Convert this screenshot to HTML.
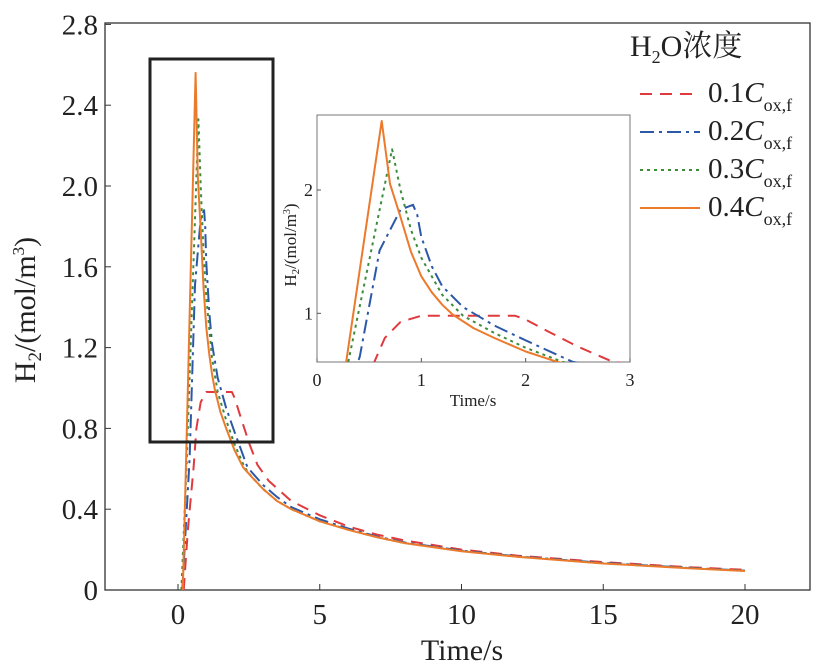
<!DOCTYPE html>
<html><head><meta charset="utf-8"><style>
body{margin:0;background:#fff;width:822px;height:663px;overflow:hidden}
svg text{font-family:"Liberation Serif","Noto Serif CJK SC",serif;fill:#222}
</style></head><body>
<svg id="c" width="822" height="663"></svg>
<script>
const series=["0.1","0.2","0.3","0.4"];
const colors=["#e03a3e","#2c58a8","#3d8c3a","#ec7a2c"];
const dashes=["12,8","14,5,3,5","3,4",""];
const t01=[0.2,0.35,0.55,0.65,0.8,1.0,1.5,1.9,2.0,2.2,2.5,2.8,3.2,4,5,6,7,8,10,12,15,18,20];
const v01=[0,0.3,0.607,0.8,0.93,0.98,0.98,0.98,0.95,0.86,0.73,0.62,0.54,0.44,0.37,0.315,0.275,0.245,0.2,0.17,0.138,0.113,0.1];
const t02=[0.15,0.41,0.6,0.8,0.92,0.96,1.0,1.1,1.2,1.4,1.7,2.0,2.45,3,3.5,4,5,6,7,8,10,12,15,18,20];
const v02=[0,0.65,1.51,1.84,1.88,1.8,1.62,1.38,1.22,1.05,0.9,0.78,0.607,0.52,0.46,0.41,0.35,0.305,0.265,0.235,0.195,0.166,0.134,0.11,0.096];
const t03=[0.12,0.3,0.72,0.8,0.9,1.0,1.2,1.4,1.7,2.0,2.35,2.6,3,3.5,4,5,6,7,8,10,12,15,18,20];
const v03=[0,0.607,2.33,2.0,1.68,1.45,1.15,0.98,0.84,0.72,0.607,0.56,0.5,0.44,0.4,0.34,0.3,0.262,0.232,0.193,0.165,0.132,0.109,0.095];
const t04=[0.17,0.28,0.62,0.7,0.8,0.9,1.0,1.1,1.2,1.3,1.5,1.7,2.0,2.3,2.6,3,3.5,4,5,6,7,8,10,12,15,18,20];
const v04=[0,0.607,2.56,2.05,1.78,1.5,1.3,1.17,1.07,0.99,0.88,0.8,0.69,0.607,0.56,0.5,0.44,0.4,0.34,0.298,0.262,0.232,0.192,0.164,0.131,0.108,0.094];
const T=[t01,t02,t03,t04],V=[v01,v02,v03,v04];
const xTicks=[0,5,10,15,20], yTicks=[0,0.4,0.8,1.2,1.6,2.0,2.4,2.8];
const ixTicks=[0,1,2,3], iyTicks=[1,2];
const NS="http://www.w3.org/2000/svg",svg=document.getElementById('c');
function mk(tag,at,par){const e=document.createElementNS(NS,tag);for(const k in at)e.setAttribute(k,at[k]);(par||svg).appendChild(e);return e;}
const X=t=>178+t*28.35, Y=v=>590-v*202;
const IX=t=>317+t*(313/3), IY=v=>313.3-(v-1)*123.3;
let e=mk('rect',{x:105,y:23,width:705,height:567,fill:'none',stroke:'#333','stroke-width':1.3});

xTicks.forEach(t=>{mk('line',{x1:X(t),x2:X(t),y1:590,y2:584,stroke:'#333'});
 e=mk('text',{x:X(t),y:624,'font-size':29,'text-anchor':'middle'});e.textContent=t;
 });
yTicks.forEach(v=>{mk('line',{x1:105,x2:111,y1:Y(v),y2:Y(v),stroke:'#333'});
 e=mk('text',{x:98,y:Y(v)+10,'font-size':29,'text-anchor':'end'});e.textContent=v===0?'0':v.toFixed(1);
 });
e=mk('text',{x:462,y:660,'font-size':30,'text-anchor':'middle'});e.textContent='Time/s';

e=mk('text',{transform:'translate(35,310) rotate(-90)','font-size':30,'text-anchor':'middle'});
e.innerHTML='H<tspan font-size="19" dy="6">2</tspan><tspan dy="-6">/(mol/m</tspan><tspan font-size="17" dy="-11">3</tspan><tspan dy="11">)</tspan>';

function path(ts,vs,fx,fy){return ts.map((t,i)=>(i?'L':'M')+fx(t).toFixed(1)+','+fy(vs[i]).toFixed(1)).join('');}
for(let s=0;s<4;s++){e=mk('path',{d:path(T[s],V[s],X,Y),fill:'none',stroke:colors[s],'stroke-width':2,'stroke-dasharray':dashes[s],'stroke-linejoin':'round'});
 }
e=mk('rect',{x:150,y:59,width:123,height:383,fill:'none',stroke:'#222','stroke-width':3});

e=mk('rect',{x:317,y:115,width:313,height:247,fill:'#fff',stroke:'#777','stroke-width':1});

const cp=mk('clipPath',{id:'ic'});mk('rect',{x:317,y:115,width:313,height:247},cp);
for(let s=0;s<4;s++){e=mk('path',{d:path(T[s],V[s],IX,IY),fill:'none',stroke:colors[s],'stroke-width':2,'stroke-dasharray':dashes[s],'clip-path':'url(#ic)','stroke-linejoin':'round'});
 }
ixTicks.forEach(t=>{mk('line',{x1:IX(t),x2:IX(t),y1:362,y2:358,stroke:'#555'});
 e=mk('text',{x:IX(t),y:386,'font-size':18,'text-anchor':'middle'});e.textContent=t;
 });
iyTicks.forEach(v=>{mk('line',{x1:317,x2:321,y1:IY(v),y2:IY(v),stroke:'#555'});
 e=mk('text',{x:313,y:IY(v)+6,'font-size':18,'text-anchor':'end'});e.textContent=v;
 });
e=mk('text',{x:473,y:406,'font-size':17,'text-anchor':'middle'});e.textContent='Time/s';

e=mk('text',{transform:'translate(296,245) rotate(-90)','font-size':17,'text-anchor':'middle'});
e.innerHTML='H<tspan font-size="11" dy="3">2</tspan><tspan dy="-3">/(mol/m</tspan><tspan font-size="10" dy="-6">3</tspan><tspan dy="6">)</tspan>';

e=mk('text',{x:630,y:56,'font-size':30});e.innerHTML='H<tspan font-size="18" dy="7">2</tspan><tspan dy="-7">O浓度</tspan>';

for(let s=0;s<4;s++){const y=102+s*38;
 e=mk('line',{x1:640,x2:700,y1:y-8,y2:y-8,stroke:colors[s],'stroke-width':2,'stroke-dasharray':dashes[s]});
 
 e=mk('text',{x:708,y:y,'font-size':29});e.innerHTML=series[s]+'<tspan font-style="italic">C</tspan><tspan font-size="18" dy="9">ox,f</tspan>';
 }
</script></body></html>
